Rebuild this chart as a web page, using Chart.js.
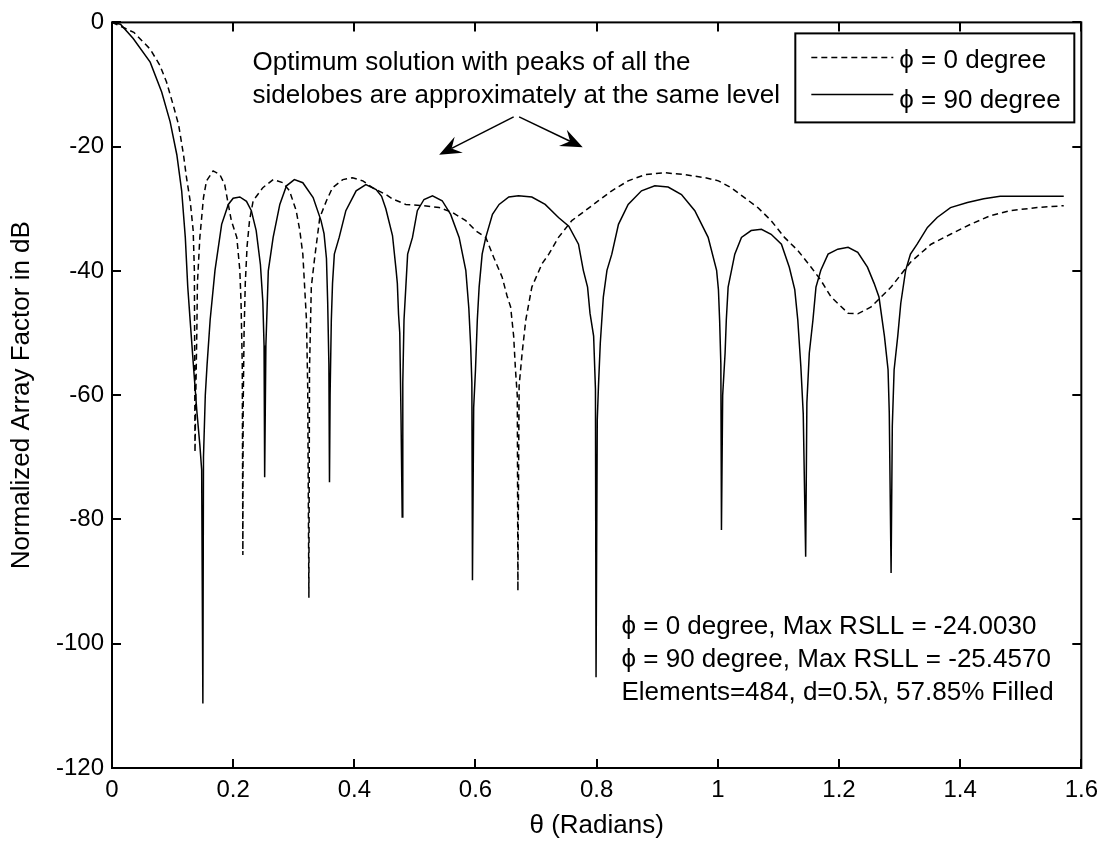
<!DOCTYPE html>
<html>
<head>
<meta charset="utf-8">
<title>Array factor</title>
<script src="https://cdn.jsdelivr.net/npm/chart.js@4/dist/chart.umd.min.js"></script>
<style>
  html, body { margin: 0; padding: 0; background: #fff; }
  canvas { display: block; }
</style>
</head>
<body>
<canvas id="myChart" width="1106" height="845"></canvas>
<script>
// phi = 0 degree (dashed)
const theta0 = [0, 0.036, 0.063, 0.079, 0.090, 0.101, 0.110, 0.118, 0.123, 0.129, 0.134, 0.136, 0.137,
  0.138, 0.140, 0.141, 0.145, 0.151, 0.156, 0.167, 0.178, 0.186, 0.192, 0.197, 0.206, 0.211, 0.213, 0.215, 0.216,
  0.2165, 0.218, 0.220, 0.223, 0.227, 0.233, 0.249, 0.266, 0.282, 0.293, 0.304, 0.310, 0.315, 0.318, 0.321, 0.323, 0.325,
  0.326, 0.329, 0.334, 0.343, 0.354, 0.364, 0.381, 0.397, 0.414, 0.430, 0.452, 0.463, 0.485, 0.513, 0.540, 0.562,
  0.584, 0.600, 0.617, 0.630, 0.644, 0.652, 0.658, 0.663, 0.666, 0.669, 0.670,
  0.672, 0.677, 0.683, 0.693, 0.710, 0.721, 0.737, 0.759, 0.781, 0.803, 0.825, 0.852, 0.880, 0.913, 0.946, 0.979,
  1.001, 1.022, 1.044, 1.066, 1.088, 1.110, 1.132, 1.154, 1.170, 1.187, 1.215, 1.231, 1.253, 1.286, 1.318, 1.352,
  1.384, 1.417, 1.450, 1.483, 1.527, 1.571];
const af0 = [0, -1.6, -4.3, -6.9, -9.6, -13.3, -16.5, -21.3, -25.0, -28.7, -33.5, -40, -69.2,
  -62, -50, -42, -34.6, -28.2, -25.5, -23.9, -24.5, -26.1, -29.3, -31.9, -34.6, -39.9, -45, -55, -85.7,
  -62, -50, -42, -36, -31.9, -28.7, -26.6, -25.3, -25.8, -27.1, -30.3, -33.5, -37.3, -42.6, -47.9, -58.5, -92.6,
  -55.9, -42.6, -38.3, -31.4, -28.7, -26.6, -25.3, -25.0, -25.5, -26.6, -27.7, -28.4, -29.3, -29.5, -29.8, -30.6,
  -31.9, -33.5, -34.6, -37.8, -41.0, -44.0, -45.8, -50.5, -55.9, -60.1, -91.5,
  -58.5, -53.2, -47.9, -42.6, -38.8, -37.3, -34.6, -31.9, -30.3, -28.7, -27.1, -25.5, -24.5, -24.2, -24.5, -25.0,
  -25.5, -26.6, -28.2, -29.8, -31.9, -34.6, -36.7, -39.4, -41.5, -44.2, -46.8, -46.9, -45.8, -42.6, -38.6, -35.7,
  -34.1, -32.5, -31.1, -30.3, -29.8, -29.5];

// phi = 90 degree (solid)
const theta90 = [0, 0.014, 0.035, 0.063, 0.082, 0.096, 0.107, 0.115, 0.121, 0.125, 0.129, 0.135, 0.140, 0.145, 0.148, 0.150,
  0.151, 0.154, 0.157, 0.162, 0.170, 0.181, 0.192, 0.200, 0.211, 0.222, 0.230, 0.238, 0.245, 0.249, 0.251, 0.252,
  0.254, 0.256, 0.258, 0.266, 0.277, 0.288, 0.301, 0.315, 0.332, 0.345, 0.350, 0.354, 0.356, 0.358, 0.359,
  0.360, 0.362, 0.364, 0.367, 0.375, 0.386, 0.403, 0.419, 0.436, 0.445, 0.452, 0.463, 0.469, 0.471, 0.473, 0.475, 0.477, 0.479,
  0.480, 0.482, 0.485, 0.488, 0.496, 0.504, 0.515, 0.529, 0.545, 0.559, 0.573, 0.584, 0.589, 0.592, 0.594, 0.595,
  0.597, 0.600, 0.603, 0.606, 0.611, 0.617, 0.628, 0.639, 0.655, 0.671, 0.693, 0.715, 0.737, 0.754, 0.770, 0.778, 0.785, 0.789, 0.795, 0.798, 0.799,
  0.801, 0.803, 0.806, 0.811, 0.817, 0.825, 0.836, 0.852, 0.874, 0.896, 0.918, 0.940, 0.962, 0.984, 0.998, 1.001, 1.003, 1.005, 1.006,
  1.008, 1.012, 1.014, 1.017, 1.028, 1.039, 1.055, 1.072, 1.088, 1.105, 1.118, 1.127, 1.132, 1.137, 1.141, 1.145,
  1.147, 1.151, 1.157, 1.162, 1.170, 1.182, 1.198, 1.215, 1.231, 1.247, 1.258, 1.266, 1.275, 1.281, 1.283, 1.286,
  1.288, 1.291, 1.297, 1.302, 1.310, 1.318, 1.329, 1.346, 1.362, 1.384, 1.412, 1.439, 1.466, 1.521, 1.571];
const af90 = [0, -0.3, -2.6, -6.4, -11.2, -16.0, -21.3, -27.1, -34.6, -42.5, -48.0, -56.0, -62.5, -68.0, -72.0, -109.6,
  -70, -60, -55, -47.9, -39.9, -32.5, -29.3, -28.3, -28.1, -28.8, -30.3, -33.5, -39.0, -45.0, -52.0, -73.2,
  -52, -46, -40, -34.6, -29.3, -26.3, -25.3, -25.8, -28.2, -31.9, -34.0, -38.0, -45.0, -55.0, -74.0,
  -60, -48, -42, -37.3, -34.6, -30.3, -27.1, -26.1, -26.9, -28.0, -30.0, -34.3, -39.9, -42.0, -47.0, -50.0, -63.0, -79.6,
  -58, -47.9, -42.6, -37.3, -34.6, -30.3, -28.5, -27.9, -28.7, -30.9, -34.6, -39.9, -46.0, -52.0, -58.0, -89.8,
  -62, -55.9, -47.9, -42.6, -37.3, -34.6, -30.9, -29.3, -28.1, -27.9, -28.1, -29.3, -31.4, -32.8, -35.7, -39.9, -42.6, -46.8, -50.5, -59.0, -105.4,
  -64, -58.5, -51.6, -44.2, -39.9, -37.3, -32.5, -29.3, -27.1, -26.3, -26.5, -27.7, -30.3, -34.6, -39.9, -43.0, -48.0, -55.0, -81.7,
  -60, -53.2, -47.9, -42.6, -37.3, -34.6, -33.5, -33.3, -34.1, -35.7, -39.4, -43.0, -47.9, -55.3, -63.0, -86.0,
  -61.2, -53.2, -47.9, -42.6, -39.9, -37.3, -36.5, -36.2, -37.0, -39.4, -42.0, -44.2, -50.5, -55.9, -62.8, -88.6,
  -65, -55.9, -50.5, -45.2, -39.9, -37.3, -35.7, -33.0, -31.4, -29.8, -29.0, -28.4, -28.0, -28.0, -28.0];

const xTicks = [0, 0.2, 0.4, 0.6, 0.8, 1.0, 1.2, 1.4, 1.6];
const xTickLabels = ['0', '0.2', '0.4', '0.6', '0.8', '1', '1.2', '1.4', '1.6'];
const yTicks = [0, -20, -40, -60, -80, -100, -120];
const yTickLabels = ['0', '-20', '-40', '-60', '-80', '-100', '-120'];

const seriesNames = ['\u03D5 = 0 degree', '\u03D5 = 90 degree'];

const noteLines = ['Optimum solution with peaks of all the', 'sidelobes are approximately at the same level'];
const infoLines = ['\u03D5 = 0 degree, Max RSLL = -24.0030', '\u03D5 = 90 degree, Max RSLL = -25.4570',
  'Elements=484, d=0.5\u03BB, 57.85% Filled'];

const FONT = '"Liberation Sans", Arial, Helvetica, sans-serif';

function toPoints(xs, ys) {
  return xs.map((x, i) => ({ x: x, y: ys[i] }));
}

// frame, inward ticks, legend, notes and arrows (MATLAB look)
const matlabDecor = {
  id: 'matlabDecor',
  afterDatasetsDraw(chart) {
    const ctx = chart.ctx;
    const a = chart.chartArea;
    const xs = chart.scales.x;
    const ys = chart.scales.y;
    const tl = 9;
    ctx.save();
    ctx.strokeStyle = '#000';
    ctx.lineWidth = 2;
    ctx.setLineDash([]);
    ctx.strokeRect(a.left, a.top, a.right - a.left, a.bottom - a.top);
    ctx.beginPath();
    xTicks.forEach(v => {
      const px = Math.round(xs.getPixelForValue(v));
      ctx.moveTo(px, a.bottom); ctx.lineTo(px, a.bottom - tl);
      ctx.moveTo(px, a.top); ctx.lineTo(px, a.top + tl);
    });
    yTicks.forEach(v => {
      const py = Math.round(ys.getPixelForValue(v));
      ctx.moveTo(a.left, py); ctx.lineTo(a.left + tl, py);
      ctx.moveTo(a.right, py); ctx.lineTo(a.right - tl, py);
    });
    ctx.stroke();

    // text notes
    ctx.fillStyle = '#000';
    ctx.font = '26px ' + FONT;
    ctx.textAlign = 'left';
    ctx.textBaseline = 'alphabetic';
    const noteYs = [-7.7, -13.0];
    noteLines.forEach((t, i) => {
      ctx.fillText(t, xs.getPixelForValue(0.232), ys.getPixelForValue(noteYs[i]));
    });
    const infoYs = [-98.4, -103.7, -109.1];
    infoLines.forEach((t, i) => {
      ctx.fillText(t, xs.getPixelForValue(0.841), ys.getPixelForValue(infoYs[i]));
    });

    // arrows
    const arrows = [
      { from: [0.663, -15.2], to: [0.540, -21.3] },
      { from: [0.672, -15.2], to: [0.777, -20.1] }
    ];
    arrows.forEach(ar => {
      const x0 = xs.getPixelForValue(ar.from[0]), y0 = ys.getPixelForValue(ar.from[1]);
      const x1 = xs.getPixelForValue(ar.to[0]), y1 = ys.getPixelForValue(ar.to[1]);
      const ang = Math.atan2(y1 - y0, x1 - x0);
      const L = 22, W = 9, N = 14;
      ctx.lineWidth = 1.5;
      ctx.beginPath();
      ctx.moveTo(x0, y0);
      ctx.lineTo(x1 - N * Math.cos(ang), y1 - N * Math.sin(ang));
      ctx.stroke();
      const bx = x1 - L * Math.cos(ang), by = y1 - L * Math.sin(ang);
      const nx = -Math.sin(ang), ny = Math.cos(ang);
      ctx.beginPath();
      ctx.moveTo(x1, y1);
      ctx.lineTo(bx + W * nx, by + W * ny);
      ctx.lineTo(x1 - N * Math.cos(ang), y1 - N * Math.sin(ang));
      ctx.lineTo(bx - W * nx, by - W * ny);
      ctx.closePath();
      ctx.fill();
    });

    // legend box
    const lx = a.right - 286, ly = a.top + 11, lw = 279, lh = 89;
    ctx.fillStyle = '#fff';
    ctx.fillRect(lx, ly, lw, lh);
    ctx.lineWidth = 2;
    ctx.strokeStyle = '#000';
    ctx.strokeRect(lx, ly, lw, lh);
    const rows = [{ line: 24, text: 35 }, { line: 61, text: 75 }];
    chart.data.datasets.forEach((ds, i) => {
      ctx.lineWidth = ds.borderWidth;
      ctx.setLineDash(ds.borderDash || []);
      ctx.beginPath();
      ctx.moveTo(lx + 16, ly + rows[i].line);
      ctx.lineTo(lx + 98, ly + rows[i].line);
      ctx.stroke();
      ctx.setLineDash([]);
      ctx.fillStyle = '#000';
      ctx.fillText(ds.label, lx + 104, ly + rows[i].text);
    });
    ctx.restore();
  }
};

const ctx = document.getElementById('myChart').getContext('2d');
new Chart(ctx, {
  type: 'line',
  data: {
    datasets: [{
      label: seriesNames[0],
      data: toPoints(theta0, af0),
      borderColor: '#000',
      borderWidth: 1.5,
      borderDash: [6, 4],
      pointRadius: 0,
      tension: 0,
      fill: false
    }, {
      label: seriesNames[1],
      data: toPoints(theta90, af90),
      borderColor: '#000',
      borderWidth: 1.5,
      pointRadius: 0,
      tension: 0,
      fill: false
    }]
  },
  options: {
    responsive: false,
    animation: false,
    events: [],
    layout: { padding: { left: 0, top: 17, right: 21, bottom: 0 } },
    plugins: {
      legend: { display: false },
      tooltip: { enabled: false }
    },
    scales: {
      x: {
        type: 'linear',
        min: 0,
        max: 1.6,
        afterBuildTicks: scale => { scale.ticks = xTicks.map(v => ({ value: v })); },
        afterFit: scale => { scale.height = 77; },
        grid: { display: false, drawTicks: false },
        border: { display: false },
        ticks: {
          padding: 8,
          color: '#000',
          font: { family: FONT, size: 24 },
          maxRotation: 0,
          callback: (v, i) => xTickLabels[i]
        },
        title: {
          display: true,
          text: '\u03B8 (Radians)',
          color: '#000',
          font: { family: FONT, size: 26 },
          padding: { top: 0, bottom: 4 }
        }
      },
      y: {
        type: 'linear',
        min: -120,
        max: 0,
        afterBuildTicks: scale => { scale.ticks = yTicks.map(v => ({ value: v })); },
        afterFit: scale => { scale.width = 112; },
        grid: { display: false, drawTicks: false },
        border: { display: false },
        ticks: {
          padding: 8,
          color: '#000',
          font: { family: FONT, size: 24 },
          callback: (v, i) => yTickLabels[i]
        },
        title: {
          display: true,
          text: 'Normalized Array Factor in dB',
          color: '#000',
          font: { family: FONT, size: 26 },
          padding: { top: 6, bottom: 0 }
        }
      }
    }
  },
  plugins: [matlabDecor]
});
</script>
</body>
</html>
